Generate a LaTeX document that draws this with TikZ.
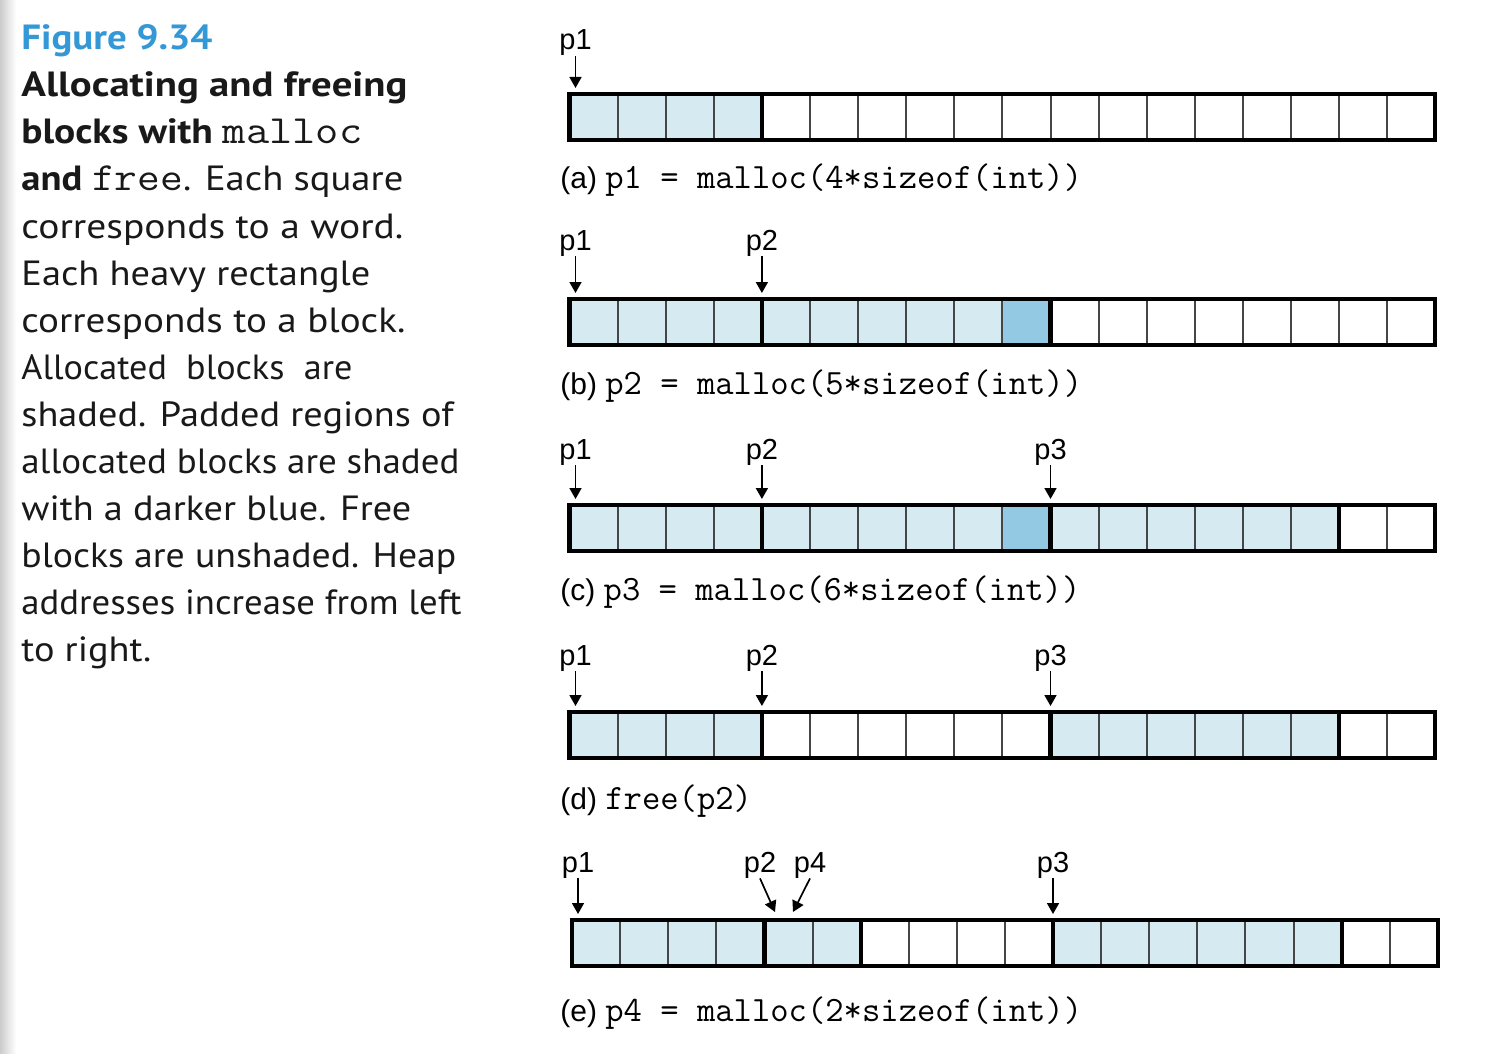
\documentclass[tikz,border=0pt]{standalone}
\usepackage{fontspec}
\usepackage{graphicx}
\usetikzlibrary{arrows.meta}
\newfontfamily\capfont{PT Sans}
\newfontfamily\helv{Liberation Sans}
\definecolor{figblue}{RGB}{52,152,214}
\definecolor{alloc}{RGB}{214,234,242}
\definecolor{pad}{RGB}{148,201,228}
\definecolor{cellline}{RGB}{70,70,70}
\newcommand\fitw[2]{\resizebox{#1}{\height}{#2}}
\newcommand\captt[1]{{\ttfamily\fontsize{20}{24}\selectfont #1}}
\newcommand\code[1]{{\ttfamily\fontsize{17.8}{20}\selectfont #1}}
\newcommand\heaprow[4]{%
  \foreach \i/\fc in {#3} {\fill[\fc] ({#2+\i*48.1},#1) rectangle ++(48.1,46);}
  \foreach \i in {1,...,17} {\draw[thinln] ({#2+\i*48.1},#1) -- ++(0,46);}
  \foreach \i in {#4} {\draw[thickln] ({#2+\i*48.1},#1) -- ++(0,46);}
  \draw[thickln] (#2,#1) rectangle ++(865.8,46);
}
\begin{document}
\begin{tikzpicture}[x=0.5pt,y=-0.5pt,
  capt/.style={anchor=base west, inner sep=0pt, font=\capfont\fontsize{17.5}{21}\selectfont, text=black!90},
  plabel/.style={anchor=base, inner sep=0pt, font=\helv\fontsize{14.5}{17}\selectfont},
  rowcap/.style={anchor=base west, inner sep=0pt, font=\helv\fontsize{15}{18}\selectfont},
  ptr/.style={-{Triangle[width=6pt,length=5.5pt]}, line width=0.85pt},
  thinln/.style={draw=cellline, line width=1pt},
  thickln/.style={draw=black, line width=2.1pt, line join=miter},
]
\useasboundingbox (0,0) rectangle (1510,1054);
\shade[left color=black!20, right color=white] (0,0) rectangle (16,1054);

% ---- caption text ----
\node[capt, text=figblue] (t0) at (21,50) {\fitw{95.5pt}{\bfseries Figure 9.34}};
\node[capt] (t1) at (21,97) {\fitw{193pt}{\bfseries Allocating and freeing}};
\node[capt] (t2) at (21,144) {\fitw{170.5pt}{\bfseries blocks with \mdseries\captt{malloc}}};
\node[capt] (t3) at (21,191) {\fitw{191pt}{\bfseries and \mdseries\captt{free}. Each square}};
\node[capt] (t4) at (21,238) {\fitw{191pt}{corresponds to a word.}};
\node[capt] (t5) at (21,285) {\fitw{174.5pt}{Each heavy rectangle}};
\node[capt] (t6) at (21,332) {\fitw{192pt}{corresponds to a block.}};
\node[capt] (t7) at (21,379) {\fitw{165.5pt}{Allocated\ \ blocks\ \ are}};
\node[capt] (t8) at (21,426) {\fitw{216pt}{shaded. Padded regions of}};
\node[capt] (t9) at (21,473) {\fitw{219pt}{allocated blocks are shaded}};
\node[capt] (t10) at (21,520) {\fitw{195pt}{with a darker blue. Free}};
\node[capt] (t11) at (21,567) {\fitw{217.5pt}{blocks are unshaded. Heap}};
\node[capt] (t12) at (21,614) {\fitw{220pt}{addresses increase from left}};
\node[capt] (t13) at (21,661) {\fitw{65pt}{to right.}};

% ---- row (a) ----
\heaprow{94}{569.5}{0/alloc,1/alloc,2/alloc,3/alloc}{4}
\node[plabel] (a-p1) at (575.5,50) {p1};
\coordinate (a-t1) at (575.5,88);
\draw[ptr] (a-p1.south) -- (a-t1);
\node[rowcap] (a-cap) at (560,188) {(a) \code{p1 = malloc(4*sizeof(int))}};

% ---- row (b) ----
\heaprow{299}{569.5}{0/alloc,1/alloc,2/alloc,3/alloc,4/alloc,5/alloc,6/alloc,7/alloc,8/alloc,9/pad}{4,10}
\node[plabel] (b-p1) at (575.5,250) {p1};
\node[plabel] (b-p2) at (761.9,250) {p2};
\coordinate (b-t1) at (575.5,293);
\coordinate (b-t2) at (761.9,293);
\draw[ptr] (b-p1.south) -- (b-t1);
\draw[ptr] (b-p2.south) -- (b-t2);
\node[rowcap] (b-cap) at (560,394) {(b) \code{p2 = malloc(5*sizeof(int))}};

% ---- row (c) ----
\heaprow{505}{569.5}{0/alloc,1/alloc,2/alloc,3/alloc,4/alloc,5/alloc,6/alloc,7/alloc,8/alloc,9/pad,10/alloc,11/alloc,12/alloc,13/alloc,14/alloc,15/alloc}{4,10,16}
\node[plabel] (c-p1) at (575.5,459) {p1};
\node[plabel] (c-p2) at (761.9,459) {p2};
\node[plabel] (c-p3) at (1050.5,459) {p3};
\coordinate (c-t1) at (575.5,499);
\coordinate (c-t2) at (761.9,499);
\coordinate (c-t3) at (1050.5,499);
\draw[ptr] (c-p1.south) -- (c-t1);
\draw[ptr] (c-p2.south) -- (c-t2);
\draw[ptr] (c-p3.south) -- (c-t3);
\node[rowcap] (c-cap) at (560,600) {(c) \code{p3 = malloc(6*sizeof(int))}};

% ---- row (d) ----
\heaprow{712}{569.5}{0/alloc,1/alloc,2/alloc,3/alloc,10/alloc,11/alloc,12/alloc,13/alloc,14/alloc,15/alloc}{4,10,16}
\node[plabel] (d-p1) at (575.5,665) {p1};
\node[plabel] (d-p2) at (761.9,665) {p2};
\node[plabel] (d-p3) at (1050.5,665) {p3};
\coordinate (d-t1) at (575.5,706);
\coordinate (d-t2) at (761.9,706);
\coordinate (d-t3) at (1050.5,706);
\draw[ptr] (d-p1.south) -- (d-t1);
\draw[ptr] (d-p2.south) -- (d-t2);
\draw[ptr] (d-p3.south) -- (d-t3);
\node[rowcap] (d-cap) at (560,809) {(d) \code{free(p2)}};

% ---- row (e) ----
\heaprow{920}{572}{0/alloc,1/alloc,2/alloc,3/alloc,4/alloc,5/alloc,10/alloc,11/alloc,12/alloc,13/alloc,14/alloc,15/alloc}{4,6,10,16}
\node[plabel] (e-p1) at (578,872) {p1};
\node[plabel] (e-p2) at (760,872) {p2};
\node[plabel] (e-p4) at (810,872) {p4};
\node[plabel] (e-p3) at (1053,872) {p3};
\coordinate (e-t1) at (578,914);
\coordinate (e-t2) at (775,912);
\coordinate (e-t4) at (793,912);
\coordinate (e-t3) at (1053,914);
\draw[ptr] (e-p1.south) -- (e-t1);
\draw[ptr] (e-p2.south) -- (e-t2);
\draw[ptr] (e-p4.south) -- (e-t4);
\draw[ptr] (e-p3.south) -- (e-t3);
\node[rowcap] (e-cap) at (560,1021) {(e) \code{p4 = malloc(2*sizeof(int))}};
\end{tikzpicture}
\end{document}
